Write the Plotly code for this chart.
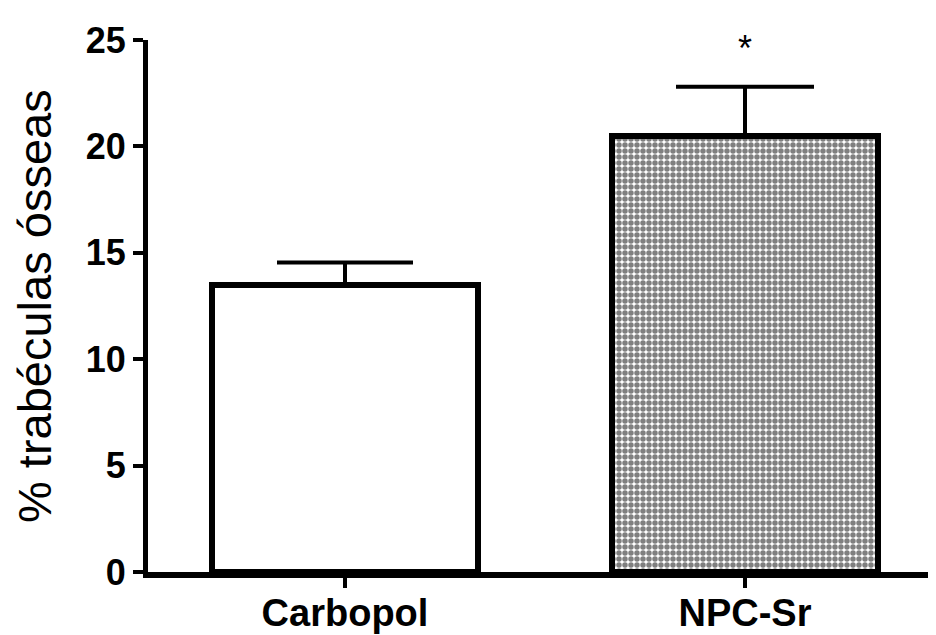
import plotly.graph_objects as go

categories = ["Carbopol", "NPC-Sr"]
means = [13.5, 20.5]
sem = [1.05, 2.3]
y_ticks = [0, 5, 10, 15, 20, 25]
signif = ["", "*"]
y_title = "% trabéculas ósseas"

fig = go.Figure()

fig.add_trace(go.Bar(
    x=[0], y=[means[0]], width=0.665,
    marker=dict(color="white", line=dict(color="black", width=6)),
    error_y=dict(type="data", symmetric=False, array=[sem[0]], arrayminus=[0],
                 color="black", thickness=4, width=68),
    showlegend=False,
))
fig.add_trace(go.Bar(
    x=[1], y=[means[1]], width=0.665,
    marker=dict(color="white", line=dict(color="black", width=6),
                pattern=dict(shape=".", size=6, solidity=0.65, fgcolor="black", bgcolor="white")),
    error_y=dict(type="data", symmetric=False, array=[sem[1]], arrayminus=[0],
                 color="black", thickness=4, width=69),
    showlegend=False,
))

for i, s in enumerate(signif):
    if s:
        fig.add_annotation(x=i, y=means[i] + sem[i], text=s, showarrow=False,
                           yshift=38, font=dict(family="Liberation Sans", size=36, color="black"))

fig.add_annotation(x=0, y=0.5, xref="paper", yref="paper", text=y_title, textangle=-90,
                   showarrow=False, xanchor="center", yanchor="middle", xshift=-114,
                   font=dict(family="Liberation Sans", size=47, color="black"))

fig.update_layout(
    width=928, height=627,
    margin=dict(l=140, r=0, t=32, b=63),
    paper_bgcolor="white", plot_bgcolor="white",
    bargap=0,
    xaxis=dict(range=[-0.4925, 1.4775], tickmode="array", tickvals=[0, 1], ticktext=categories,
               showline=True, linecolor="black", linewidth=6, ticks="outside",
               ticklen=10, tickwidth=4, tickcolor="black", showgrid=False, zeroline=False,
               ticklabelstandoff=-8,
               tickfont=dict(family="Liberation Sans", size=38, color="black", weight="bold")),
    yaxis=dict(range=[0, 25], tickvals=y_ticks, showline=True, linecolor="black", linewidth=5,
               ticks="outside", ticklen=10, tickwidth=4, tickcolor="black",
               showgrid=False, zeroline=False,
               tickfont=dict(family="Liberation Sans", size=36, color="black", weight="bold")),
)

fig.write_html("out.html")
